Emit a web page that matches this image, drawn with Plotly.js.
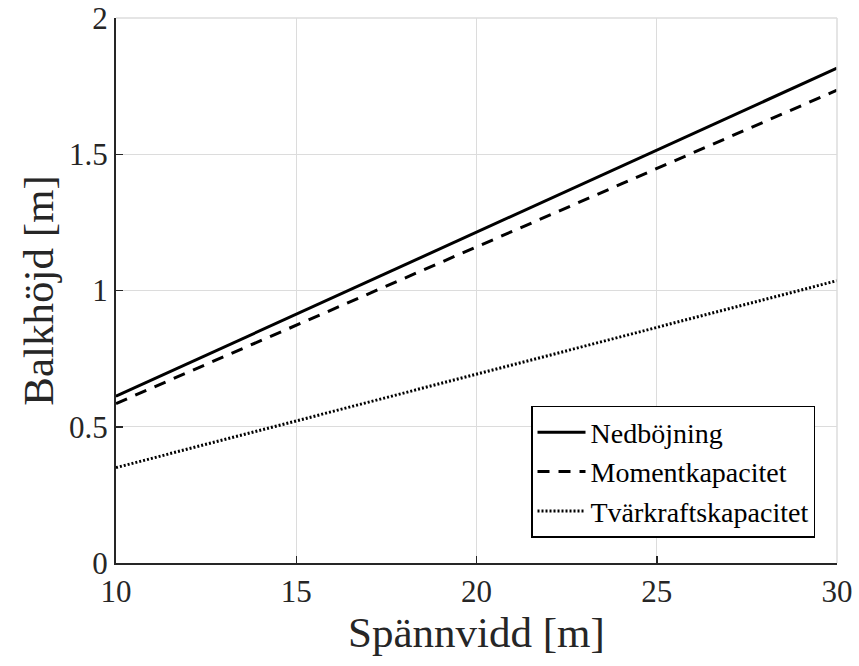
<!DOCTYPE html>
<html>
<head>
<meta charset="utf-8">
<script src="https://cdn.plot.ly/plotly-3.0.1.min.js"></script>
<style>
  html, body { margin: 0; padding: 0; background: #fff; }
  #chart { width: 859px; height: 666px; }
</style>
</head>
<body>
<div id="chart"></div>
<script>
// Span lengths [m]
const spans = [10, 15, 20, 25, 30];
// Required beam depth [m] per design criterion
const nedbojning = [0.612, 0.913, 1.214, 1.515, 1.816];
const momentkapacitet = [0.585, 0.872, 1.160, 1.447, 1.735];
const tvarkraftskapacitet = [0.350, 0.522, 0.693, 0.865, 1.036];

const seriesNames = ['Nedböjning', 'Momentkapacitet', 'Tvärkraftskapacitet'];
const xTicks = [10, 15, 20, 25, 30];
const yTicks = [0, 0.5, 1, 1.5, 2];

const serif = 'Liberation Serif, Times New Roman, serif';

const traces = [
  { x: spans, y: nedbojning, name: seriesNames[0], mode: 'lines',
    line: { color: '#000', width: 3, dash: 'solid' } },
  { x: spans, y: momentkapacitet, name: seriesNames[1], mode: 'lines',
    line: { color: '#000', width: 3, dash: '12px,9px' } },
  { x: spans, y: tvarkraftskapacitet, name: seriesNames[2], mode: 'lines',
    line: { color: '#000', width: 3, dash: '2px,2px' } }
];

const layout = {
  width: 859, height: 666,
  margin: { l: 116, r: 22, t: 18, b: 103 },
  paper_bgcolor: '#fff', plot_bgcolor: '#fff',
  font: { family: serif, color: '#262626' },
  showlegend: true,
  legend: {
    x: 0.9695, y: 0.046, xanchor: 'right', yanchor: 'bottom',
    bgcolor: '#fff', bordercolor: '#000', borderwidth: 1.5,
    font: { family: serif, size: 28, color: '#000' },
    tracegroupgap: 0, itemwidth: 48
  },
  xaxis: {
    range: [10, 30], tickvals: xTicks, ticktext: xTicks.map(String),
    ticks: 'inside', ticklen: 7, tickcolor: '#262626', tickwidth: 1.5,
    showline: true, linecolor: '#262626', linewidth: 2,
    showgrid: true, gridcolor: '#dcdcdc', gridwidth: 1, zeroline: false,
    tickfont: { family: serif, size: 31, color: '#262626' },
    title: { text: 'Spännvidd [m]', font: { family: serif, size: 43, color: '#262626' }, standoff: 0 }
  },
  yaxis: {
    range: [0, 2], tickvals: yTicks, ticktext: ['0', '0.5', '1', '1.5', '2'],
    ticks: 'inside', ticklen: 7, tickcolor: '#262626', tickwidth: 1.5,
    showline: true, linecolor: '#262626', linewidth: 2,
    showgrid: true, gridcolor: '#dcdcdc', gridwidth: 1, zeroline: false,
    tickfont: { family: serif, size: 31, color: '#262626' },
    title: { text: 'Balkhöjd [m]', font: { family: serif, size: 43, color: '#262626' }, standoff: 2 }
  },
  shapes: [
    { type: 'line', xref: 'paper', yref: 'paper', x0: 0, x1: 1, y0: 1, y1: 1,
      line: { color: '#dcdcdc', width: 1.5 } },
    { type: 'line', xref: 'paper', yref: 'paper', x0: 1, x1: 1, y0: 0, y1: 1,
      line: { color: '#dcdcdc', width: 1.5 } }
  ]
};

Plotly.newPlot('chart', traces, layout, { displayModeBar: false, staticPlot: true });
</script>
</body>
</html>
